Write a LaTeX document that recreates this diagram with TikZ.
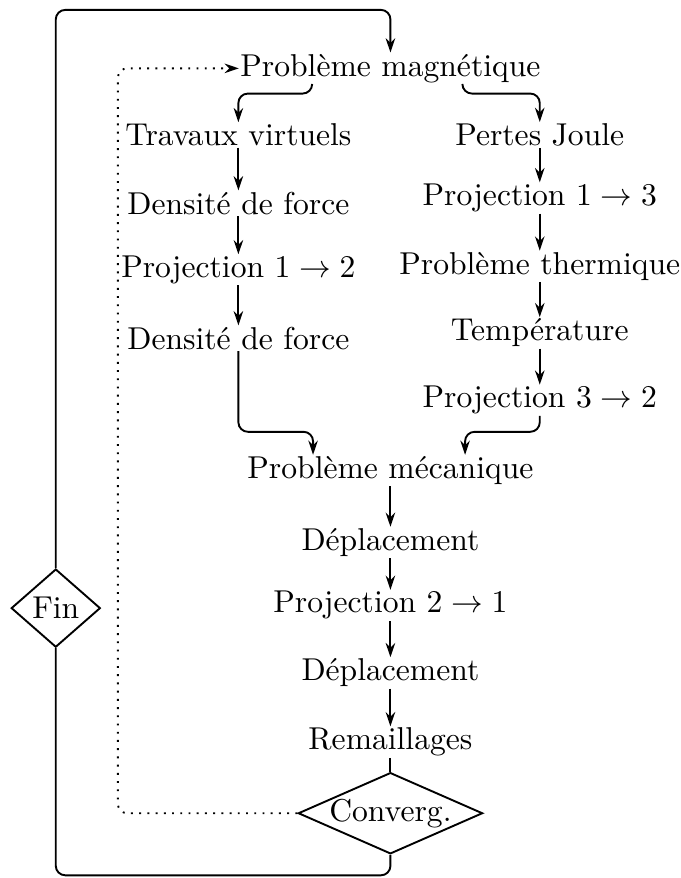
\documentclass[tikz,border=0pt]{standalone}
\usepackage{fontspec}
\usetikzlibrary{arrows.meta, shapes.geometric}
\tikzset{
    x=1cm, y=1cm,
    txt/.style={inner sep=0.3pt},
    choix/.style={diamond, draw, semithick, inner sep=0pt},
    lien/.style={semithick, rounded corners=3pt},
    flow/.style={lien, -{Stealth[length=4.5pt, width=3pt]}},
    retour/.style={flow, dotted},
}

\begin{document}
\begin{tikzpicture}
    \useasboundingbox (0,0) rectangle (7.56,-9.76);

    \node[txt] (mag) at (4.34,-0.76) {Problème magnétique};

    \node[txt] (tv)  at (2.65,-1.50) {Travaux virtuels};
    \node[txt] (df1) at (2.65,-2.26) {Densité de force};
    \node[txt] (p12) at (2.65,-3.00) {Projection $1 \to 2$};
    \node[txt] (df2) at (2.65,-3.76) {Densité de force};

    \node[txt] (pj)   at (6.00,-1.50) {Pertes Joule};
    \node[txt] (p13)  at (6.00,-2.20) {Projection $1 \to 3$};
    \node[txt] (pt)   at (6.00,-2.96) {Problème thermique};
    \node[txt] (temp) at (6.00,-3.70) {Température};
    \node[txt] (p32)  at (6.00,-4.45) {Projection $3 \to 2$};

    \node[txt] (meca) at (4.34,-5.23) {Problème mécanique};
    \node[txt] (dep1) at (4.34,-6.03) {Déplacement};
    \node[txt] (p21)  at (4.34,-6.73) {Projection $2 \to 1$};
    \node[txt] (dep2) at (4.34,-7.48) {Déplacement};
    \node[txt] (rem)  at (4.34,-8.25) {Remaillages};

    \node[choix, aspect=2.27, inner xsep=-0.5pt] (conv) at (4.34,-9.04) {Converg.};
    \node[choix, aspect=1.14, inner sep=1.3pt] (fin)  at (0.62,-6.76) {Fin};

    \coordinate (mL) at (3.47,-1.04);
    \coordinate (mR) at (5.14,-1.04);
    \coordinate (jL) at (3.48,-4.80);
    \coordinate (jR) at (5.17,-4.80);
    \coordinate (bas) at (0.62,-9.73);
    \coordinate (haut) at (0.62,-0.11);
    \coordinate (gd) at (1.31,-0.76);

    \draw[flow] (mag.south -| mL) -- (mL) -| (tv.north);
    \draw[flow] (mag.south -| mR) -- (mR) -| (pj.north);

    \draw[flow] (tv) -- (df1);
    \draw[flow] (df1) -- (p12);
    \draw[flow] (p12) -- (df2);

    \draw[flow] (pj) -- (p13);
    \draw[flow] (p13) -- (pt);
    \draw[flow] (pt) -- (temp);
    \draw[flow] (temp) -- (p32);

    \draw[flow] (df2.south) |- (jL) -- (meca.north -| jL);
    \draw[flow] (p32.south) |- (jR) -- (meca.north -| jR);

    \draw[flow] (meca) -- (dep1);
    \draw[flow] (dep1) -- (p21);
    \draw[flow] (p21) -- (dep2);
    \draw[flow] (dep2) -- (rem);
    \draw[lien] (rem) -- (conv);

    \draw[lien] (conv.south) |- (bas) -- (fin.south);
    \draw[flow] (fin.north) -- (haut) -| (mag.north);

    \draw[retour] (conv.west) -| (gd) -- (mag.west);
\end{tikzpicture}
\end{document}
